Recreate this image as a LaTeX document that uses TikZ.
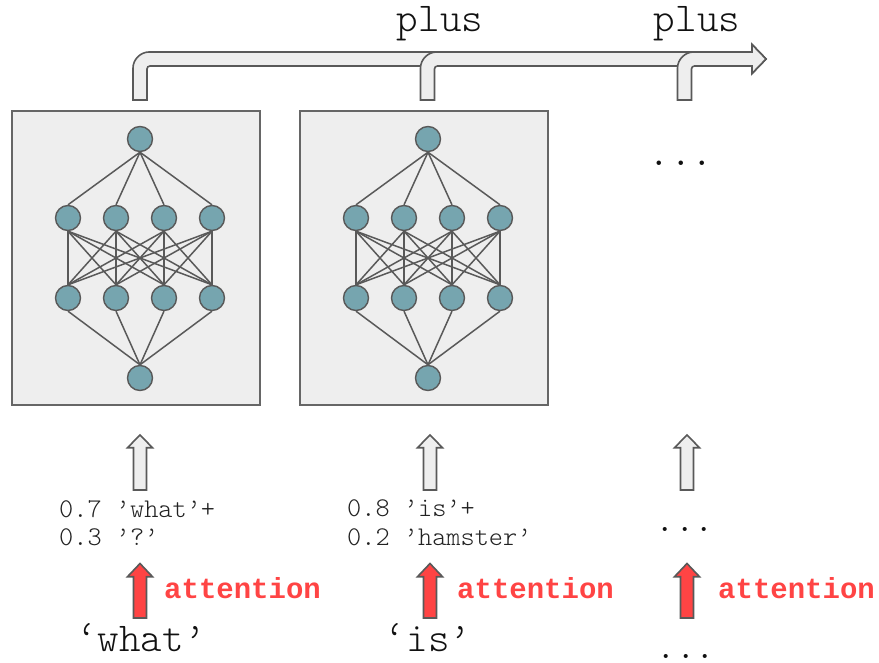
\documentclass[tikz,border=0pt]{standalone}
\usepackage{fontspec}
\setmonofont{Latin Modern Mono Light}
\newfontfamily\boldmono{Liberation Mono}
\definecolor{boxfill}{HTML}{EEEEEE}
\definecolor{boxline}{HTML}{666666}
\definecolor{neuron}{HTML}{76A5AF}
\definecolor{edge}{HTML}{595959}
\definecolor{attred}{HTML}{FF4444}
\definecolor{txt}{HTML}{111111}
\definecolor{smalltxt}{HTML}{222222}
\begin{document}
\begin{tikzpicture}[x=1pt,y=-1pt,
  netbox/.style={draw=boxline,fill=boxfill,line width=1.6pt,minimum width=248pt,minimum height=294pt,inner sep=0pt},
  neur/.style={circle,draw=edge,fill=neuron,line width=1.4pt,minimum size=25pt,inner sep=0pt},
  wire/.style={draw=edge,line width=1.5pt},
  hollow/.style={draw=edge,fill=boxfill,line width=1.6pt,line join=miter},
  redarr/.style={draw=edge,fill=attred,line width=1.6pt,line join=miter},
  bigtt/.style={font=\fontsize{41}{41}\selectfont\ttfamily,text=txt,inner sep=0pt,anchor=base,text depth=0pt},
  midtt/.style={font=\fontsize{37}{37}\selectfont\ttfamily,text=txt,inner sep=0pt,anchor=base,text depth=0pt},
  smalltt/.style={font=\fontsize{27}{28.5}\selectfont\ttfamily,text=smalltxt,inner sep=0pt,align=left,anchor=north west},
  attn/.style={font=\fontsize{29}{29}\selectfont\boldmono\bfseries,text=attred,inner sep=0pt,anchor=base west}
]
\useasboundingbox (0,0) rectangle (879,663);

% top bent arrows
\foreach \c in {140,427.5,684.5}{
  \path[hollow] (\c-7,100) -- (\c-7,68) .. controls (\c-7,59.2) and (\c+0.8,52) .. (\c+9,52)
    -- (752,52) -- (752,44.5) -- (766,59) -- (752,73.5) -- (752,66) -- (\c+10,66)
    .. controls (\c+8.3,66) and (\c+7,67.3) .. (\c+7,69) -- (\c+7,100) -- cycle;
}
\node[bigtt] (plus1) at (440,32) {plus};
\node[bigtt] (plus2) at (697,32) {plus};

% network boxes
\foreach \b/\ox in {A/0,B/288}{
  \node[netbox] (\b-box) at (136+\ox,258) {};
  \node[neur] (\b-t) at (140+\ox,139) {};
  \node[neur] (\b-b) at (140+\ox,378) {};
  \foreach \i/\xx in {1/68,2/116,3/164,4/212}{
    \node[neur] (\b-m\i) at (\xx+\ox,218) {};
    \node[neur] (\b-l\i) at (\xx+\ox,298) {};
  }
  \foreach \i in {1,...,4}{
    \draw[wire] (\b-t.south) -- (\b-m\i.north);
    \draw[wire] (\b-l\i.south) -- (\b-b.north);
    \foreach \j in {1,...,4}{
      \draw[wire] (\b-m\i.south) -- (\b-l\j.north);
    }
  }
}
\node[bigtt] (dots1) at (681,166) {...};

% up arrows
\foreach \c in {140,430,687}{
  \path[hollow] (\c-6.5,490) -- (\c-6.5,447.7) -- (\c-12.5,447.7) -- (\c,435) -- (\c+12.5,447.7) -- (\c+6.5,447.7) -- (\c+6.5,490) -- cycle;
  \path[redarr] (\c-6.5,618) -- (\c-6.5,576.7) -- (\c-12.5,576.7) -- (\c,563.5) -- (\c+12.5,576.7) -- (\c+6.5,576.7) -- (\c+6.5,618) -- cycle;
}

% weighted inputs
\node[smalltt] (w1) at (59,500) {0.7 ’what’+\\0.3 ’?’};
\node[smalltt] (w2) at (347,500) {0.8 ’is’+\\0.2 ’hamster’};
\node[midtt] (dots2) at (685,531) {...};

% attention labels
\node[attn] (a1) at (164,598) {attention};
\node[attn] (a2) at (457,598) {attention};
\node[attn] (a3) at (718,598) {attention};

% words
\node[bigtt] (word1) at (141,651) {‘what’};
\node[bigtt] (word2) at (428,651) {‘is’};
\node[midtt] (dots3) at (686,658) {...};
\end{tikzpicture}
\end{document}
